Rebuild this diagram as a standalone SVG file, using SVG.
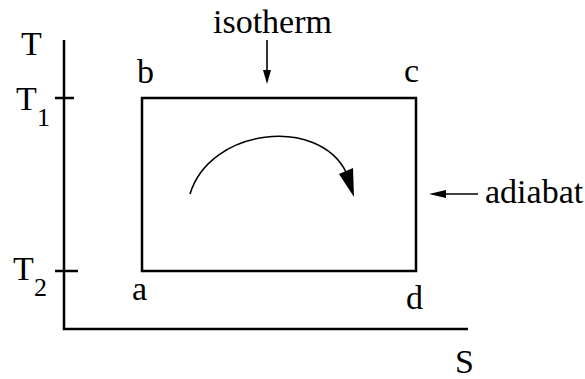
<svg xmlns="http://www.w3.org/2000/svg" width="585" height="379" viewBox="0 0 585 379">
<style>
text{font-family:"Liberation Serif","Times New Roman",serif;font-size:34px;fill:#000}
.sub{font-size:26px}
.ax{stroke:#000;stroke-width:2.5;fill:none}
.ar{stroke:#000;stroke-width:1.6;fill:none}
</style>
<rect width="585" height="379" fill="#fff"/>
<g id="axes">
<path class="ax" d="M64,40 V329 H468"/>
<path class="ax" d="M55,98 H74 M55,271 H78"/>
<text x="21" y="55">T</text>
<text x="16" y="110">T</text><text class="sub" x="37" y="126">1</text>
<text x="13" y="280">T</text><text class="sub" x="34" y="296">2</text>
<text x="455" y="373">S</text>
</g>
<g id="cycle">
<rect class="ax" x="142" y="98" width="274" height="173"/>
<text x="137" y="83">b</text>
<text x="404" y="82">c</text>
<text x="132" y="300">a</text>
<text x="406" y="309">d</text>
</g>
<g id="connectors">
<path class="ar" d="M267,40 V72"/>
<polygon points="263,70 271,70 267,84"/>
<path class="ar" d="M478,194 H444"/>
<polygon points="446,190 446,198 429,194"/>
<path class="ar" stroke-width="2" d="M190,194 C210,128 318,116 346,172"/>
<polygon points="339,174 353,168 354,197"/>
</g>
<g id="isotherm"><text x="213" y="33">isotherm</text></g>
<g id="adiabat"><text x="485" y="203">adiabat</text></g>
</svg>
